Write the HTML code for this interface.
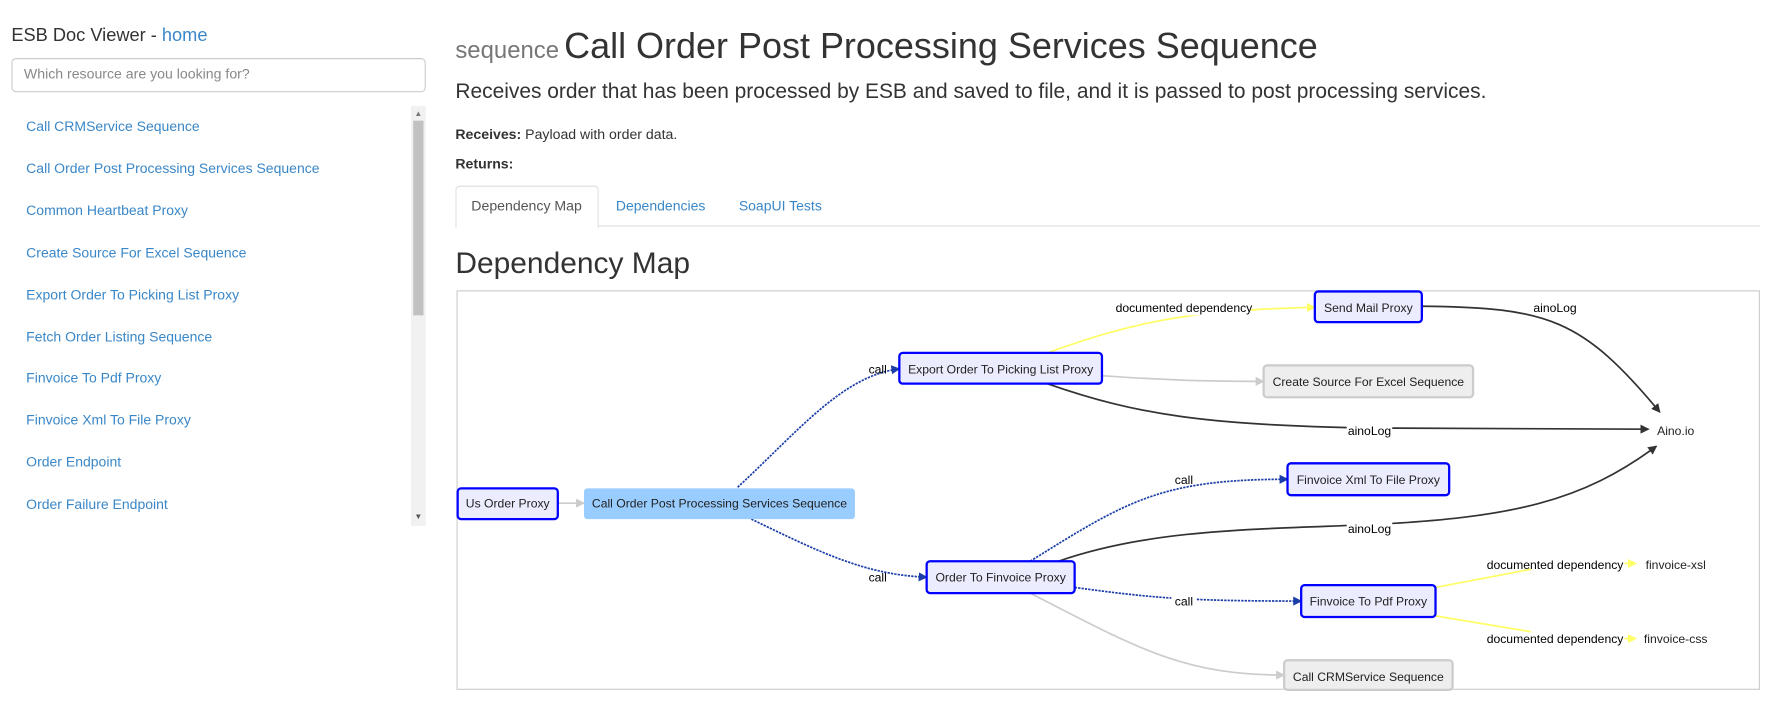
<!DOCTYPE html>
<html><head><meta charset="utf-8"><style>
html,body{margin:0;padding:0;background:#fff;width:1785px;height:708px;overflow:hidden}
#w{position:absolute;left:0;top:0;width:1568px;height:622px;transform:scale(1.13839);transform-origin:0 0;font-family:"Liberation Sans",sans-serif;color:#333}
.a{position:absolute;white-space:nowrap}
.l{color:#3a87c8;font-size:12.3px}
</style></head><body><div id="w">
<div class="a" style="left:10px;top:23px;font-size:16px">ESB Doc Viewer - <span style="color:#3a87c8">home</span></div>
<div class="a" style="left:10px;top:51px;width:362px;height:28px;border:1px solid #ccc;border-radius:4px"></div>
<div class="a" style="left:21px;top:58px;font-size:12.4px;color:#888">Which resource are you looking for?</div>
<div class="a l" style="left:23px;top:104px">Call CRMService Sequence</div>
<div class="a l" style="left:23px;top:141px">Call Order Post Processing Services Sequence</div>
<div class="a l" style="left:23px;top:178px">Common Heartbeat Proxy</div>
<div class="a l" style="left:23px;top:215px">Create Source For Excel Sequence</div>
<div class="a l" style="left:23px;top:252px">Export Order To Picking List Proxy</div>
<div class="a l" style="left:23px;top:289px">Fetch Order Listing Sequence</div>
<div class="a l" style="left:23px;top:325px">Finvoice To Pdf Proxy</div>
<div class="a l" style="left:23px;top:362px">Finvoice Xml To File Proxy</div>
<div class="a l" style="left:23px;top:399px">Order Endpoint</div>
<div class="a l" style="left:23px;top:436px">Order Failure Endpoint</div>
<div class="a" style="left:361px;top:93px;width:13px;height:369px;background:#f1f1f1"></div>
<div class="a" style="left:363px;top:106px;width:9px;height:171px;background:#c1c1c1"></div>
<div class="a" style="left:364px;top:97px;font-size:7px;color:#777">▲</div>
<div class="a" style="left:364px;top:451px;font-size:7px;color:#555">▼</div>

<div class="a" style="left:400px;top:22px"><span style="font-size:21px;color:#777">sequence</span> <span style="font-size:31.6px;color:#333">Call Order Post Processing Services Sequence</span></div>
<div class="a" style="left:400px;top:69px;font-size:18.4px">Receives order that has been processed by ESB and saved to file, and it is passed to post processing services.</div>
<div class="a" style="left:400px;top:111px;font-size:12.4px"><b>Receives:</b> Payload with order data.</div>
<div class="a" style="left:400px;top:137px;font-size:12.4px"><b>Returns:</b></div>
<div class="a" style="left:400px;top:198px;width:1146px;height:1px;background:#ddd"></div>
<div class="a" style="left:400px;top:163px;width:124px;height:36px;border:1px solid #ddd;border-bottom:none;border-radius:4px 4px 0 0;background:#fff"></div>
<div class="a" style="left:414px;top:174px;font-size:12.4px;color:#555">Dependency Map</div>
<div class="a l" style="left:541px;top:174px">Dependencies</div>
<div class="a l" style="left:649px;top:174px">SoapUI Tests</div>
<div class="a" style="left:400px;top:216px;font-size:26.3px">Dependency Map</div>

<svg class="a" style="left:0;top:0" width="1568" height="622" viewBox="0 0 1568 622" font-family="Liberation Sans,sans-serif" font-size="10.7">
<defs>
<marker id="g" markerWidth="8" markerHeight="8" refX="7" refY="4" orient="auto" markerUnits="userSpaceOnUse"><path d="M0,0L8,4L0,8z" fill="#ccc"/></marker>
<marker id="b" markerWidth="8" markerHeight="8" refX="7" refY="4" orient="auto" markerUnits="userSpaceOnUse"><path d="M0,0L8,4L0,8z" fill="#1a3da8"/></marker>
<marker id="k" markerWidth="8" markerHeight="8" refX="7" refY="4" orient="auto" markerUnits="userSpaceOnUse"><path d="M0,0L8,4L0,8z" fill="#333"/></marker>
<marker id="y" markerWidth="8" markerHeight="8" refX="7" refY="4" orient="auto" markerUnits="userSpaceOnUse"><path d="M0,0L8,4L0,8z" fill="#ff6"/></marker>
</defs>
<rect x="401.5" y="255.5" width="1144" height="350" fill="#fff" stroke="#ccc"/>
<g fill="none" stroke-width="1.5">
<path d="M490,442H513" stroke="#ccc" marker-end="url(#g)"/>
<path d="M648,428C700,380 740,330 790,324" stroke="#1a3da8" stroke-dasharray="2,1" marker-end="url(#b)"/>
<path d="M660,456C720,485 760,505 814,507" stroke="#1a3da8" stroke-dasharray="2,1" marker-end="url(#b)"/>
<path d="M920,310C990,285 1040,272 1155,270" stroke="#ff6" marker-end="url(#y)"/>
<path d="M968,330C1040,335 1070,335 1110,335" stroke="#ccc" marker-end="url(#g)"/>
<path d="M920,337C1000,365 1060,373 1200,376L1448,377" stroke="#333" marker-end="url(#k)"/>
<path d="M1249,269C1360,270 1390,280 1458,362" stroke="#333" marker-end="url(#k)"/>
<path d="M905,493C990,440 1020,421 1131,421" stroke="#1a3da8" stroke-dasharray="2,1" marker-end="url(#b)"/>
<path d="M930,493C1010,465 1100,465 1200,461C1330,455 1390,440 1455,392" stroke="#333" marker-end="url(#k)"/>
<path d="M944,516C1010,525 1040,528 1143,528" stroke="#1a3da8" stroke-dasharray="2,1" marker-end="url(#b)"/>
<path d="M905,521C1000,570 1040,593 1128,593" stroke="#ccc" marker-end="url(#g)"/>
<path d="M1261,516L1345,500" stroke="#ff6"/>
<path d="M1427,495H1437" stroke="#ff6" marker-end="url(#y)"/>
<path d="M1261,541L1345,555" stroke="#ff6"/>
<path d="M1427,561H1437" stroke="#ff6" marker-end="url(#y)"/>
</g>
<g stroke-width="2">
<rect x="402" y="429" width="88" height="27" rx="3" fill="#ececff" stroke="#00f"/>
<rect x="513" y="429" width="238" height="27" rx="3" fill="#99ccff"/>
<rect x="790" y="310" width="178" height="27" rx="3" fill="#ececff" stroke="#00f"/>
<rect x="1155" y="256" width="94" height="27" rx="3" fill="#ececff" stroke="#00f"/>
<rect x="1110" y="321" width="184" height="28" rx="3" fill="#eee" stroke="#ccc"/>
<rect x="1131" y="407" width="142" height="28" rx="3" fill="#ececff" stroke="#00f"/>
<rect x="814" y="493" width="130" height="28" rx="3" fill="#ececff" stroke="#00f"/>
<rect x="1143" y="514" width="118" height="28" rx="3" fill="#ececff" stroke="#00f"/>
<rect x="1128" y="580" width="148" height="26" rx="3" fill="#eee" stroke="#ccc"/>
</g>
<g fill="#222" text-anchor="middle">
<text x="446" y="446">Us Order Proxy</text>
<text x="632" y="446">Call Order Post Processing Services Sequence</text>
<text x="879" y="328">Export Order To Picking List Proxy</text>
<text x="1202" y="274">Send Mail Proxy</text>
<text x="1202" y="339">Create Source For Excel Sequence</text>
<text x="1202" y="425">Finvoice Xml To File Proxy</text>
<text x="879" y="511">Order To Finvoice Proxy</text>
<text x="1202" y="532">Finvoice To Pdf Proxy</text>
<text x="1202" y="598">Call CRMService Sequence</text>
<text x="1472" y="382">Aino.io</text>
<text x="1472" y="500">finvoice-xsl</text>
<text x="1472" y="565">finvoice-css</text>
<g fill="#000">
<rect x="982" y="263" width="116" height="14" fill="#fff"/><text x="1040" y="274">documented dependency</text>
<text x="771" y="328">call</text>
<text x="771" y="511">call</text>
<rect x="1183" y="371" width="40" height="14" fill="#fff"/><text x="1203" y="382">ainoLog</text>
<text x="1366" y="274">ainoLog</text>
<text x="1040" y="425">call</text>
<rect x="1183" y="457" width="40" height="14" fill="#fff"/><text x="1203" y="468">ainoLog</text>
<rect x="1029" y="521" width="22" height="14" fill="#fff"/><text x="1040" y="532">call</text>
<text x="1366" y="500">documented dependency</text>
<text x="1366" y="565">documented dependency</text>
</g></g>
</svg>
</div></body></html>
